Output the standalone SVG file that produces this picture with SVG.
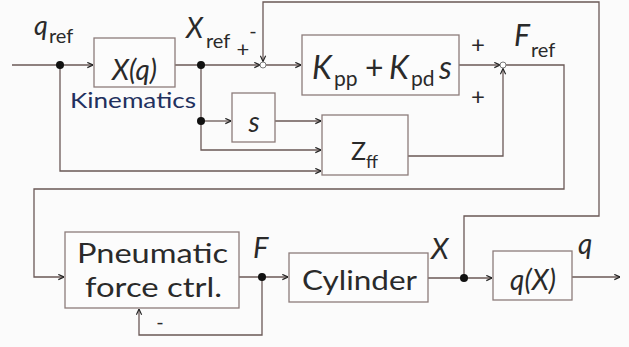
<svg xmlns="http://www.w3.org/2000/svg" width="629" height="347" viewBox="0 0 629 347">
<style>
.box{fill:#fcfcfc;stroke:#8c7c7a;stroke-width:1.3}
.ln{fill:none;stroke:#6a5856;stroke-width:1.3}
.ar{marker-end:url(#arr)}
.t{font-family:Lato,"Open Sans","Liberation Sans",sans-serif;fill:#2a2a2a}
.i{font-style:italic}
.dot{fill:#111}
.sum{fill:#fff;stroke:#7a7a7a;stroke-width:1}
</style>
<defs>
<marker id="arr" viewBox="0 0 8 8" refX="7.5" refY="4" markerWidth="7" markerHeight="7" markerUnits="userSpaceOnUse" orient="auto">
<path d="M1,1 L7.5,4 L1,7" fill="none" stroke="#222" stroke-width="1.3"/>
</marker>
</defs>
<rect width="629" height="347" fill="#fbfbfb"/>

<g id="connectors">
<path class="ln ar" d="M12,65 H93"/>
<path class="ln ar" d="M175,65 H260"/>
<path class="ln ar" d="M266,65 H301"/>
<path class="ln ar" d="M459,65 H500"/>
<path class="ln ar" d="M506,65 H564 V189 H34 V277 H64"/>
<path class="ln ar" d="M201,65 V150 H321"/>
<path class="ln ar" d="M201,121 H231"/>
<path class="ln ar" d="M275,121 H321"/>
<path class="ln ar" d="M60,65 V171 H321"/>
<path class="ln ar" d="M408,156 H503 V68.5"/>
<path class="ln ar" d="M239,277 H288"/>
<path class="ln ar" d="M262,277 V335 H139 V309"/>
<path class="ln ar" d="M428,278 H492"/>
<path class="ln ar" d="M464,278 V216 H599 V2 H263 V61.5"/>
<path class="ln ar" d="M572,277 H620"/>
<circle class="dot" cx="60" cy="65" r="4"/>
<circle class="dot" cx="201" cy="65" r="4"/>
<circle class="dot" cx="201" cy="121" r="4"/>
<circle class="dot" cx="262" cy="277" r="4"/>
<circle class="dot" cx="464" cy="278" r="4"/>
</g>

<g id="sum1"><circle class="sum" cx="263" cy="65" r="3"/></g>
<g id="sum2"><circle class="sum" cx="503" cy="65" r="3"/></g>

<g id="kinematics">
<rect class="box" x="94" y="38" width="81" height="49"/>
<text class="t i" x="134.5" y="80" font-size="28" text-anchor="middle">X(q)</text>
<text class="t" x="70" y="108" font-size="22" style="fill:#22305e" textLength="126" lengthAdjust="spacingAndGlyphs">Kinematics</text>
</g>

<g id="pd-ctrl">
<rect class="box" x="302" y="35" width="157" height="60"/>
<text class="t" y="79" font-size="32"><tspan class="i" x="312">K</tspan><tspan x="334" y="86" font-size="21">pp</tspan><tspan x="365" y="79">+</tspan><tspan class="i" x="389">K</tspan><tspan x="411" y="86" font-size="21">pd</tspan><tspan class="i" x="439" y="79">s</tspan></text>
</g>

<g id="s-block">
<rect class="box" x="232" y="93" width="43" height="49"/>
<text class="t i" x="254" y="132" font-size="28" text-anchor="middle">s</text>
</g>

<g id="zff">
<rect class="box" x="322" y="115" width="86" height="60"/>
<text class="t" x="351" y="160" font-size="25">Z<tspan font-size="18" y="168">ff</tspan></text>
</g>

<g id="pneumatic">
<rect class="box" x="65" y="232" width="174" height="76"/>
<text class="t" x="77" y="263" font-size="26" textLength="151" lengthAdjust="spacingAndGlyphs">Pneumatic</text>
<text class="t" x="85" y="297" font-size="26" textLength="137" lengthAdjust="spacingAndGlyphs">force ctrl.</text>
</g>

<g id="cylinder">
<rect class="box" x="289" y="253" width="139" height="49"/>
<text class="t" x="302" y="290" font-size="26" textLength="115" lengthAdjust="spacingAndGlyphs">Cylinder</text>
</g>

<g id="qx">
<rect class="box" x="493" y="251" width="79" height="49"/>
<text class="t i" x="533" y="290" font-size="28" text-anchor="middle">q(X)</text>
</g>

<g id="labels">
<text class="t" x="34" y="35" font-size="27"><tspan class="i">q</tspan><tspan x="49" font-size="20" y="43">ref</tspan></text>
<text class="t" x="186" y="38" font-size="28"><tspan class="i">X</tspan><tspan x="206" font-size="20" y="48">ref</tspan></text>
<text class="t" x="243" y="57" font-size="22" text-anchor="middle">+</text>
<text class="t" x="253" y="38" font-size="20" text-anchor="middle">-</text>
<text class="t" x="478" y="53" font-size="24" text-anchor="middle">+</text>
<text class="t" x="478" y="105" font-size="24" text-anchor="middle">+</text>
<text class="t" x="514" y="46" font-size="30"><tspan class="i">F</tspan><tspan x="531" font-size="20" y="57">ref</tspan></text>
<text class="t i" x="253" y="258" font-size="29">F</text>
<text class="t i" x="431" y="259" font-size="29">X</text>
<text class="t i" x="578" y="254" font-size="28">q</text>
<text class="t" x="160" y="329" font-size="20" text-anchor="middle">-</text>
</g>
</svg>
